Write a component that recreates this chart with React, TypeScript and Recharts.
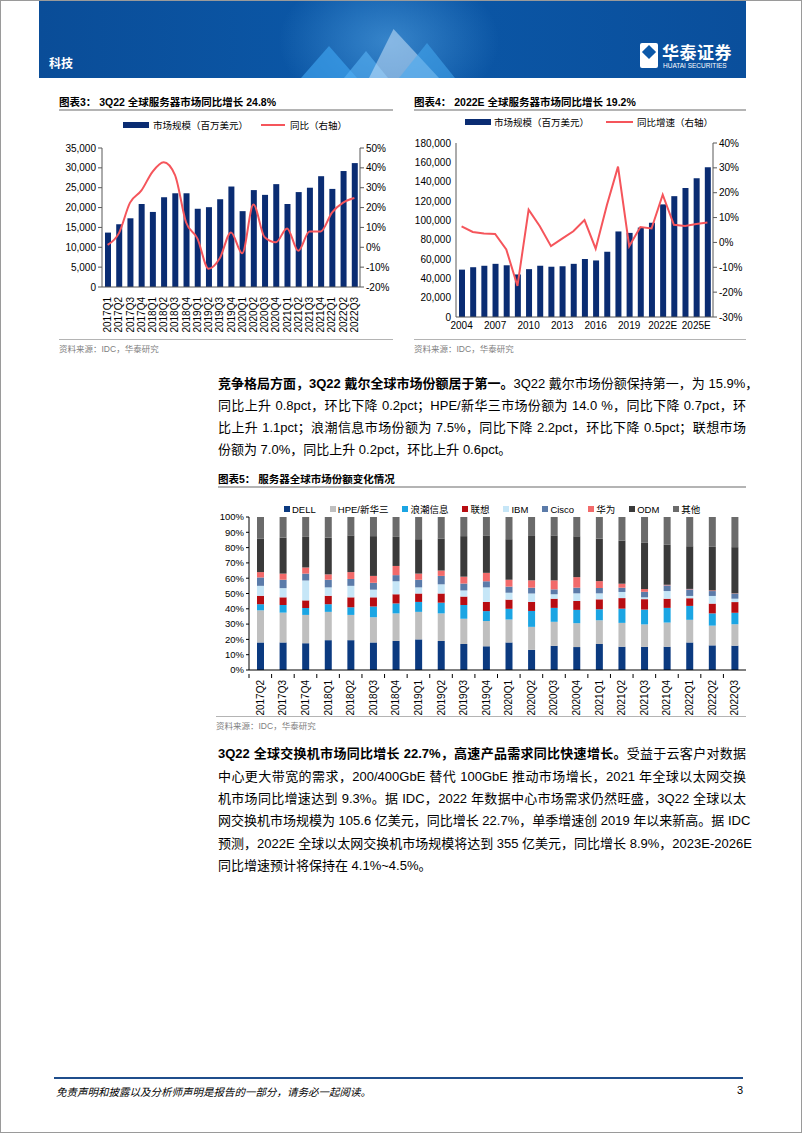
import React from 'react';
import { ComposedChart, BarChart, Bar, Line, XAxis, YAxis } from 'recharts';

// 图表3: quarterly server market
const quarters = [
  '2017Q1', '2017Q2', '2017Q3', '2017Q4', '2018Q1', '2018Q2', '2018Q3', '2018Q4',
  '2019Q1', '2019Q2', '2019Q3', '2019Q4', '2020Q1', '2020Q2', '2020Q3', '2020Q4',
  '2021Q1', '2021Q2', '2021Q3', '2021Q4', '2022Q1', '2022Q2', '2022Q3',
];
const quarterRevenue = [
  13700, 15800, 17300, 20900, 18900, 22600, 23600, 23600, 19700, 20100, 22100, 25300,
  19100, 24400, 23200, 25900, 20900, 23900, 25000, 27900, 24700, 29200, 31200,
];
const quarterYoY = [
  1.2, 7, 22.5, 28.5, 38, 42.8, 36.5, 12.5, 4.5, -10.8, -5.5, 7.5,
  -3, 21.5, 5, 2.5, 9.5, -1.8, 8, 8, 17.5, 22.5, 24.8,
];
const revTicks3 = [0, 5000, 10000, 15000, 20000, 25000, 30000, 35000];
const pctTicks3 = [-20, -10, 0, 10, 20, 30, 40, 50];

// 图表4: annual server market
const years = [
  '2004', '2005', '2006', '2007', '2008', '2009', '2010', '2011', '2012', '2013', '2014', '2015',
  '2016', '2017', '2018', '2019', '2020', '2021', '2022E', '2023E', '2024E', '2025E', '2026E',
];
const yearRevenue = [
  49000, 51500, 53000, 55000, 53500, 44000, 49500, 53000, 52000, 52500, 55000, 60000,
  58500, 67500, 88500, 87000, 92500, 97500, 116500, 125000, 133500, 143500, 155000,
];
const yearYoY = [
  6.5, 4.2, 3.6, 3.4, -2.8, -17.5, 13.2, 6.5, -1.5, 1.5, 4.5, 9,
  -2.5, 15, 30.5, -1.5, 6.2, 5.6, 19.2, 7.1, 6.6, 7.4, 8,
];
const revTicks4 = [0, 20000, 40000, 60000, 80000, 100000, 120000, 140000, 160000, 180000];
const pctTicks4 = [-30, -20, -10, 0, 10, 20, 30, 40];

// 图表5: vendor share by quarter (%)
const shareQuarters = quarters.slice(1);
const dell = [18, 18, 17.5, 19.5, 19.5, 18, 19, 20, 19, 17, 15.5, 18, 13.2, 15.8, 15, 17, 15.2, 15.1, 15.2, 18, 16.1, 15.9];
const hpe = [21, 19.5, 18.5, 18.5, 16.5, 16.5, 18, 18, 18, 16.5, 16.5, 15, 15, 15.7, 15.6, 15.5, 15.6, 14.7, 15.8, 14.8, 12.9, 14];
const inspur = [4, 5, 4.5, 5, 5, 7, 6.5, 6.5, 7, 9, 6.5, 7, 10.4, 9.1, 8.7, 7.2, 9.3, 9.7, 9.6, 9.1, 8, 7.5];
const lenovo = [5.5, 5, 5, 5.5, 6.5, 6, 6, 5.5, 6, 5.5, 6, 6, 5.9, 6, 5.8, 6.5, 6.9, 6.8, 6, 5, 6.4, 7];
const ibm = [6.5, 6, 13, 5.5, 7.5, 5, 8.5, 4, 6, 4, 9.5, 4.5, 5.5, 2.9, 5, 3.9, 4, 1.2, 5, 1.5, 5, 2.2];
const cisco = [5.5, 5.5, 4.5, 5, 4.5, 4.5, 4, 5, 5.5, 4.5, 4, 4, 3.8, 3.2, 3.7, 3.5, 2.8, 3.6, 3.7, 4.3, 3.2, 3.3];
const huawei = [3.5, 4, 4, 3.5, 4.5, 4.5, 6, 4, 3.5, 4.5, 5.5, 4.5, 4.8, 5.9, 6.9, 4.5, 2.6, 1.8, 0.4, 0.3, 0.4, 0.2];
const odm = [22, 23.5, 20, 24, 24, 26, 19, 22.5, 21, 26.5, 24.5, 26.5, 29, 29.4, 26.7, 27.8, 28.2, 30.2, 26.1, 27.9, 28.5, 30.2];
const others = [14, 13.5, 13, 13.5, 12, 12.5, 13, 14.5, 14, 12.5, 12, 14.5, 12.4, 12, 12.6, 14.1, 15.4, 16.9, 18.2, 19.1, 19.5, 19.7];
const vendorNames = ['DELL', 'HPE/新华三', '浪潮信息', '联想', 'IBM', 'Cisco', '华为', 'ODM', '其他'];
const vendorColors = ['#0b3a80', '#bfbfbf', '#1ba5e3', '#b80d12', '#c6e6f7', '#5b7ba9', '#f26a6a', '#3a3a3a', '#6b6b6b'];
const vendorShares = [dell, hpe, inspur, lenovo, ibm, cisco, huawei, odm, others];
const shareTicks = [0, 10, 20, 30, 40, 50, 60, 70, 80, 90, 100];

const NAVY = '#0a2c72';
const RED = '#f5555b';
const LATIN = '"Liberation Sans", Arial, "Noto Sans CJK SC", sans-serif';
const CJK = '"Liberation Sans", "Noto Sans CJK SC", sans-serif';

const quarterData = quarters.map((q, i) => ({ q, rev: quarterRevenue[i], yoy: quarterYoY[i] }));
const yearData = years.map((y, i) => ({ y, rev: yearRevenue[i], yoy: yearYoY[i] }));
const shareData = shareQuarters.map((q, i) => {
  const row: Record<string, string | number> = { q };
  vendorNames.forEach((n, k) => { row[n] = vendorShares[k][i]; });
  return row;
});

const fmtNum = (v: number) => v.toLocaleString('en-US');
const fmtPct = (v: number) => `${v}%`;

const RotatedTick = (props: any) => {
  const { x, y, payload, step } = props;
  return (
    <g>
      {step ? <line x1={x - step / 2} x2={x - step / 2} y1={y - 4} y2={y} stroke="#000" /> : null}
      <text
        x={x}
        y={y + 2}
        dy="0.35em"
        transform={`rotate(-90, ${x}, ${y + 2})`}
        textAnchor="end"
        fontSize={10}
        fontFamily={LATIN}
        fill="#000"
      >
        {payload.value}
      </text>
    </g>
  );
};

const abs = (left: number, top: number, extra: React.CSSProperties = {}): React.CSSProperties => ({
  position: 'absolute', left, top, ...extra,
});

const Title = ({ left, top, width, text }: { left: number; top: number; width: number; text: string }) => (
  <>
    <div style={abs(left, top, { fontSize: 10.5, fontWeight: 700, fontFamily: CJK, whiteSpace: 'nowrap' })}>{text}</div>
    <div style={abs(left, top + 15, { width, height: 2, background: '#b4b4b4' })} />
  </>
);

const Source = ({ left, top, width }: { left: number; top: number; width: number }) => (
  <>
    <div style={abs(left, top, { width, height: 1, background: '#b4b4b4' })} />
    <div style={abs(left, top + 3, { fontSize: 8.5, color: '#808080', fontFamily: CJK })}>资料来源：IDC，华泰研究</div>
  </>
);

const Line1 = ({ top, children, last }: { top: number; children: React.ReactNode; last?: boolean }) => (
  <div
    style={abs(217, top, {
      width: 528, fontSize: 13, lineHeight: '18px', fontFamily: CJK, color: '#000',
      textAlign: 'justify', textAlignLast: last ? 'left' : 'justify', whiteSpace: 'nowrap',
    })}
  >
    {children}
  </div>
);

const axisTick = { fontSize: 10, fill: '#000', fontFamily: LATIN };

export default function App() {
  return (
    <div style={{ position: 'absolute', left: 0, top: 0, width: 802, height: 1133, background: '#fff', border: '1px solid #9a9a9a', boxSizing: 'border-box', overflow: 'hidden' }}>
      {/* header */}
      <div style={abs(38, 0, { width: 707, height: 77, background: 'linear-gradient(90deg, #0a4d98 0%, #0b58a8 45%, #0a4f9c 100%)', overflow: 'hidden' })}>
        <div style={abs(230, -40, { width: 240, height: 160, background: 'radial-gradient(ellipse at center, rgba(120,200,255,0.4) 0%, rgba(120,200,255,0) 65%)' })} />
        <div style={abs(262, 45, { width: 56, height: 32, background: 'rgba(60,160,235,0.7)', clipPath: 'polygon(50% 0, 100% 100%, 0 100%)' })} />
        <div style={abs(305, 50, { width: 44, height: 27, background: 'rgba(90,180,245,0.6)', clipPath: 'polygon(50% 0, 100% 100%, 0 100%)' })} />
        <div style={abs(330, 28, { width: 70, height: 49, background: 'rgba(200,225,250,0.55)', clipPath: 'polygon(35% 0, 100% 100%, 0 100%)' })} />
        <div style={abs(360, 42, { width: 56, height: 35, background: 'rgba(70,170,240,0.55)', clipPath: 'polygon(50% 0, 100% 100%, 0 100%)' })} />
        <div style={abs(10, 53, { color: '#fff', fontSize: 12, fontWeight: 700, fontFamily: CJK })}>科技</div>
        <div style={abs(601, 42, { width: 18, height: 25, background: '#fff', borderRadius: 2 })}>
          <div style={abs(4, 4, { width: 10, height: 10, background: '#0b58a8', transform: 'rotate(45deg)' })} />
        </div>
        <div style={abs(623, 38, { color: '#fff', fontSize: 17, fontWeight: 700, fontFamily: CJK, letterSpacing: 0.5 })}>华泰证券</div>
        <div style={abs(624, 61, { color: '#fff', fontSize: 6.5, fontFamily: LATIN, whiteSpace: 'nowrap' })}>HUATAI SECURITIES</div>
      </div>

      {/* chart 3 */}
      <Title left={58} top={93} width={334} text="图表3：  3Q22 全球服务器市场同比增长 24.8%" />
      <div style={abs(122, 121, { width: 26, height: 6, background: NAVY })} />
      <div style={abs(152, 117, { fontSize: 9.5, fontFamily: CJK })}>市场规模（百万美元）</div>
      <div style={abs(260, 123, { width: 24, height: 2, background: RED })} />
      <div style={abs(289, 117, { fontSize: 9.5, fontFamily: CJK })}>同比（右轴）</div>
      <div style={abs(55, 140)}>
        <ComposedChart width={340} height={195} data={quarterData} margin={{ top: 7, right: 0, bottom: 4, left: 0 }}>
          <XAxis dataKey="q" interval={0} height={45} tick={<RotatedTick />} tickLine={false} axisLine={{ stroke: '#595959' }} />
          <YAxis yAxisId="left" width={46} domain={[0, 35000]} ticks={revTicks3} tickFormatter={fmtNum} tick={axisTick} tickSize={4} axisLine={{ stroke: '#595959' }} tickLine={{ stroke: '#595959' }} />
          <YAxis yAxisId="right" orientation="right" width={36} domain={[-20, 50]} ticks={pctTicks3} tickFormatter={fmtPct} tick={axisTick} tickSize={4} axisLine={{ stroke: '#595959' }} tickLine={{ stroke: '#595959' }} />
          <Bar yAxisId="left" dataKey="rev" fill={NAVY} barSize={6} isAnimationActive={false} />
          <Line yAxisId="right" dataKey="yoy" type="monotone" stroke={RED} strokeWidth={2} dot={false} isAnimationActive={false} />
        </ComposedChart>
      </div>
      <Source left={58} top={338} width={334} />

      {/* chart 4 */}
      <Title left={413} top={93} width={332} text="图表4：  2022E 全球服务器市场同比增长 19.2%" />
      <div style={abs(464, 118, { width: 26, height: 6, background: NAVY })} />
      <div style={abs(493, 114, { fontSize: 9.5, fontFamily: CJK })}>市场规模（百万美元）</div>
      <div style={abs(605, 120, { width: 27, height: 2, background: RED })} />
      <div style={abs(636, 114, { fontSize: 9.5, fontFamily: CJK })}>同比增速（右轴）</div>
      <div style={abs(410, 135)}>
        <ComposedChart width={340} height={200} data={yearData} margin={{ top: 7, right: 0, bottom: 2, left: 0 }}>
          <XAxis dataKey="y" interval={2} height={17} tick={axisTick} tickLine={false} tickSize={3} axisLine={{ stroke: '#595959' }} />
          <YAxis yAxisId="left" width={45} domain={[0, 180000]} ticks={revTicks4} tickFormatter={fmtNum} tick={axisTick} tickSize={3} axisLine={{ stroke: '#595959' }} tickLine={false} />
          <YAxis yAxisId="right" orientation="right" width={38} domain={[-30, 40]} ticks={pctTicks4} tickFormatter={fmtPct} tick={axisTick} tickSize={4} axisLine={{ stroke: '#595959' }} tickLine={{ stroke: '#595959' }} />
          <Bar yAxisId="left" dataKey="rev" fill={NAVY} barSize={6} isAnimationActive={false} />
          <Line yAxisId="right" dataKey="yoy" type="linear" stroke={RED} strokeWidth={2} dot={false} isAnimationActive={false} />
        </ComposedChart>
      </div>
      <Source left={413} top={338} width={332} />

      {/* paragraph 1 */}
      <Line1 top={374}><b>竞争格局方面，3Q22 戴尔全球市场份额居于第一。</b>3Q22 戴尔市场份额保持第一，为 15.9%，</Line1>
      <Line1 top={396}>同比上升 0.8pct，环比下降 0.2pct；HPE/新华三市场份额为 14.0 %，同比下降 0.7pct，环</Line1>
      <Line1 top={418}>比上升 1.1pct；浪潮信息市场份额为 7.5%，同比下降 2.2pct，环比下降 0.5pct；联想市场</Line1>
      <Line1 top={440} last>份额为 7.0%，同比上升 0.2pct，环比上升 0.6pct。</Line1>

      {/* chart 5 */}
      <Title left={217} top={470} width={528} text="图表5：  服务器全球市场份额变化情况" />
      <div style={abs(283, 501, { display: 'flex', gap: 14, fontSize: 9.5, fontFamily: CJK, whiteSpace: 'nowrap' })}>
        {vendorNames.map((n, k) => (
          <div key={n} style={{ display: 'flex', alignItems: 'center' }}>
            <span style={{ display: 'inline-block', width: 6, height: 6, background: vendorColors[k], marginRight: 2 }} />
            {n}
          </div>
        ))}
      </div>
      <div style={abs(205, 500)}>
        <BarChart width={545} height={215} data={shareData} margin={{ top: 16, right: 5, bottom: 0, left: 0 }}>
          <XAxis dataKey="q" interval={0} height={46} tick={<RotatedTick step={496.6 / 22} />} tickLine={false} axisLine={{ stroke: '#000' }} />
          <YAxis width={43} domain={[0, 100]} ticks={shareTicks} tickFormatter={fmtPct} tick={{ ...axisTick, fontSize: 9.5 }} tickSize={3} axisLine={{ stroke: '#000' }} tickLine={{ stroke: '#000' }} />
          {vendorNames.map((n, k) => (
            <Bar key={n} dataKey={n} stackId="s" fill={vendorColors[k]} barSize={7} isAnimationActive={false} />
          ))}
        </BarChart>
      </div>
      <Source left={215} top={715} width={530} />

      {/* paragraph 2 */}
      <Line1 top={744}><b>3Q22 全球交换机市场同比增长 22.7%，高速产品需求同比快速增长。</b>受益于云客户对数据</Line1>
      <Line1 top={767}>中心更大带宽的需求，200/400GbE 替代 100GbE 推动市场增长，2021 年全球以太网交换</Line1>
      <Line1 top={789}>机市场同比增速达到 9.3%。据 IDC，2022 年数据中心市场需求仍然旺盛，3Q22 全球以太</Line1>
      <Line1 top={811}>网交换机市场规模为 105.6 亿美元，同比增长 22.7%，单季增速创 2019 年以来新高。据 IDC</Line1>
      <Line1 top={834}>预测，2022E 全球以太网交换机市场规模将达到 355 亿美元，同比增长 8.9%，2023E-2026E</Line1>
      <Line1 top={856} last>同比增速预计将保持在 4.1%~4.5%。</Line1>

      {/* footer */}
      <div style={abs(53, 1076, { width: 689, height: 2, background: '#1f4e8c' })} />
      <div style={abs(55, 1083, { fontSize: 10.5, fontStyle: 'italic', fontFamily: CJK })}>免责声明和披露以及分析师声明是报告的一部分，请务必一起阅读。</div>
      <div style={abs(736, 1083, { fontSize: 11, fontFamily: LATIN })}>3</div>
    </div>
  );
}
